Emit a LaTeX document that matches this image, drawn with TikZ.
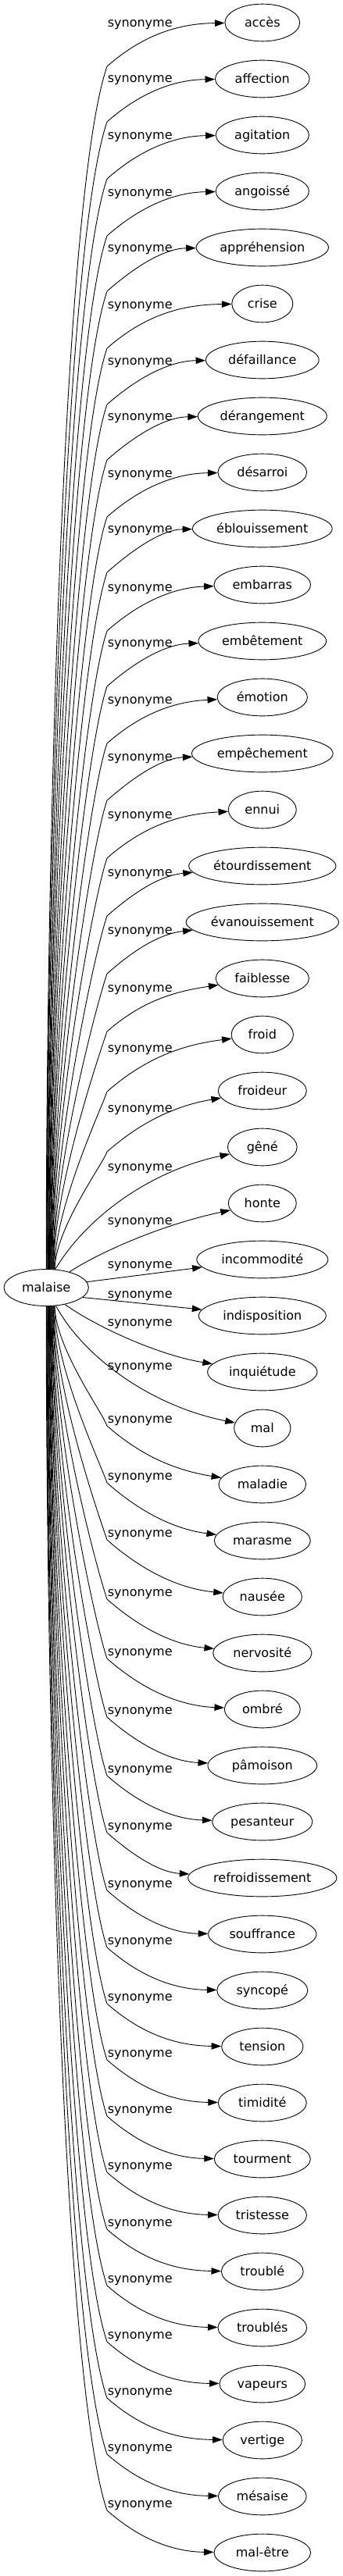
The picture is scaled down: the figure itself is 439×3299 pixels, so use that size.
\documentclass[tikz,border=0pt]{standalone}
\usepackage{fontspec}
\setmainfont{DejaVu Sans}
\usetikzlibrary{arrows.meta,shapes.geometric}
\begin{document}
\begin{tikzpicture}[x=1bp,y=-1bp,
  word/.style={draw, ellipse, line width=0.9bp, inner xsep=-20bp, inner ysep=0pt,
    minimum height=47.7bp, text height=12bp, text depth=1bp,
    font=\fontsize{16bp}{19bp}\selectfont},
  lab/.style={anchor=base, inner sep=0pt, font=\fontsize{16bp}{19bp}\selectfont},
  syn/.style={line width=0.9bp, -{Triangle[length=12.5bp,width=8.5bp]}}]
\fill[white] (0,0) rectangle (439,3299);
\useasboundingbox (0,0) rectangle (439,3299);
\node[word, minimum width=108.3bp, minimum height=47bp] (m) at (59.2,1649) {malaise};
% upper edges
\foreach \i/\nm/\ww/\ly/\ee/\ang in {
0/accès/95.7/29/1/90,
1/affection/120.7/100/1/89,
2/agitation/119.3/173/1/88,
3/angoissé/119.3/246/1/86,
4/appréhension/169.3/317/1/85,
5/crise/78/390/1/84,
6/défaillance/144.7/462/1/82,
7/dérangement/165/533/1/81,
8/désarroi/113.7/606/1/80,
9/éblouissement/178.7/677/1/78,
10/embarras/123.7/752/3/77,
11/embêtement/163.7/823/4/76,
12/émotion/115.3/896/5/74,
13/empêchement/180.7/969/6/73,
14/ennui/87/1043/5/72,
15/étourdissement/188.3/1117/12/70,
16/évanouissement/195.3/1191/15/69,
17/faiblesse/119.3/1265/16/68,
18/froid/79.3/1342/12/66,
19/froideur/113/1419/18/65}{
  \pgfmathsetmacro\ny{29+72*\i}
  \pgfmathsetmacro\lb{\ly+5.2}
  \pgfmathsetmacro\wy{\ly+56}
  \pgfmathsetmacro\hh{1626-\wy}
  \pgfmathsetmacro\lx{335.8-\ww/2}
  \pgfmathsetmacro\ddx{\lx-137}
  \pgfmathsetmacro\cx{\lx-0.34*\ddx}
  \pgfmathsetmacro\cy{\ny+(\ee)}
  \node[word, minimum width=\ww bp] (n\i) at (335.8,\ny) {\nm};
  \node[lab] (l\i) at (179.2,\lb) {synonyme};
  \draw[syn] (m.\ang) .. controls +(0,-0.34*\hh) and +(-0.037*\hh,0.108*\hh) .. (137,\wy)
     .. controls +(0.34*\ddx,-0.3*\ddx) and (\cx,\cy) .. (n\i);
}
% lower edges
\foreach \i/\nm/\ww/\ly/\ee/\ang in {
26/maladie/111.7/1817/-17/295,
27/marasme/123/1890/-14/294,
28/nausée/101.3/1963/-10/292,
29/nervosité/126.3/2039/-10/291,
30/ombré/97/2115/-4/290,
31/pâmoison/139.7/2190/-5/288,
32/pesanteur/128.3/2265/-3/287,
33/refroidissement/190.3/2338/-7/286,
34/souffrance/138.3/2412/-1/284,
35/syncopé/116/2485/-1/283,
36/tension/104.3/2557/-1/282,
37/timidité/113/2629/-1/280,
38/tourment/123/2701/-1/279,
39/tristesse/113.3/2773/-1/278,
40/troublé/104.7/2846/-1/276,
41/troublés/113.7/2918/-1/275,
42/vapeurs/109.7/2990/-1/274,
43/vertige/101.3/3062/-1/272,
44/mésaise/112.7/3134/-1/271,
45/mal-être/123.7/3206/-1/270}{
  \pgfmathsetmacro\ny{29+72*\i}
  \pgfmathsetmacro\lb{\ly+5.2}
  \pgfmathsetmacro\wy{\ly+9}
  \pgfmathsetmacro\hh{\wy-1672}
  \pgfmathsetmacro\lx{335.8-\ww/2}
  \pgfmathsetmacro\ddx{\lx-137}
  \pgfmathsetmacro\cx{\lx-0.34*\ddx}
  \pgfmathsetmacro\cy{\ny+(\ee)}
  \node[word, minimum width=\ww bp] (n\i) at (335.8,\ny) {\nm};
  \node[lab] (l\i) at (179.2,\lb) {synonyme};
  \draw[syn] (m.\ang) .. controls +(0,0.34*\hh) and +(-0.037*\hh,-0.108*\hh) .. (137,\wy)
     .. controls +(0.34*\ddx,0.3*\ddx) and (\cx,\cy) .. (n\i);
}
% edges near the source
\node[word, minimum width=88.7bp] (n20) at (335.8,1469) {gêné};
\node[lab] (l20) at (179.2,1499.2) {synonyme};
\draw[syn] (m.64) .. controls (110,1560) and (190,1500) .. (n20);
\node[word, minimum width=87bp] (n21) at (335.8,1541) {honte};
\node[lab] (l21) at (179.2,1568.2) {synonyme};
\draw[syn] (m.34) .. controls (120,1608) and (200,1570) .. (n21);
\node[word, minimum width=168bp] (n22) at (335.8,1613) {incommodité};
\node[lab] (l22) at (179.2,1624.2) {synonyme};
\draw[syn] (m.8) -- (n22);
\node[word, minimum width=163bp] (n23) at (335.8,1685) {indisposition};
\node[lab] (l23) at (179.2,1662.2) {synonyme};
\draw[syn] (m.345) -- (n23);
\node[word, minimum width=140.3bp] (n24) at (335.8,1757) {inquiétude};
\node[lab] (l24) at (179.2,1698.2) {synonyme};
\draw[syn] (m.318) .. controls (120,1697) and (200,1735) .. (n24);
\node[word, minimum width=72.3bp] (n25) at (335.8,1829) {mal};
\node[lab] (l25) at (179.2,1754.2) {synonyme};
\draw[syn] (m.298) .. controls (105,1735) and (190,1800) .. (n25);
\end{tikzpicture}
\end{document}
